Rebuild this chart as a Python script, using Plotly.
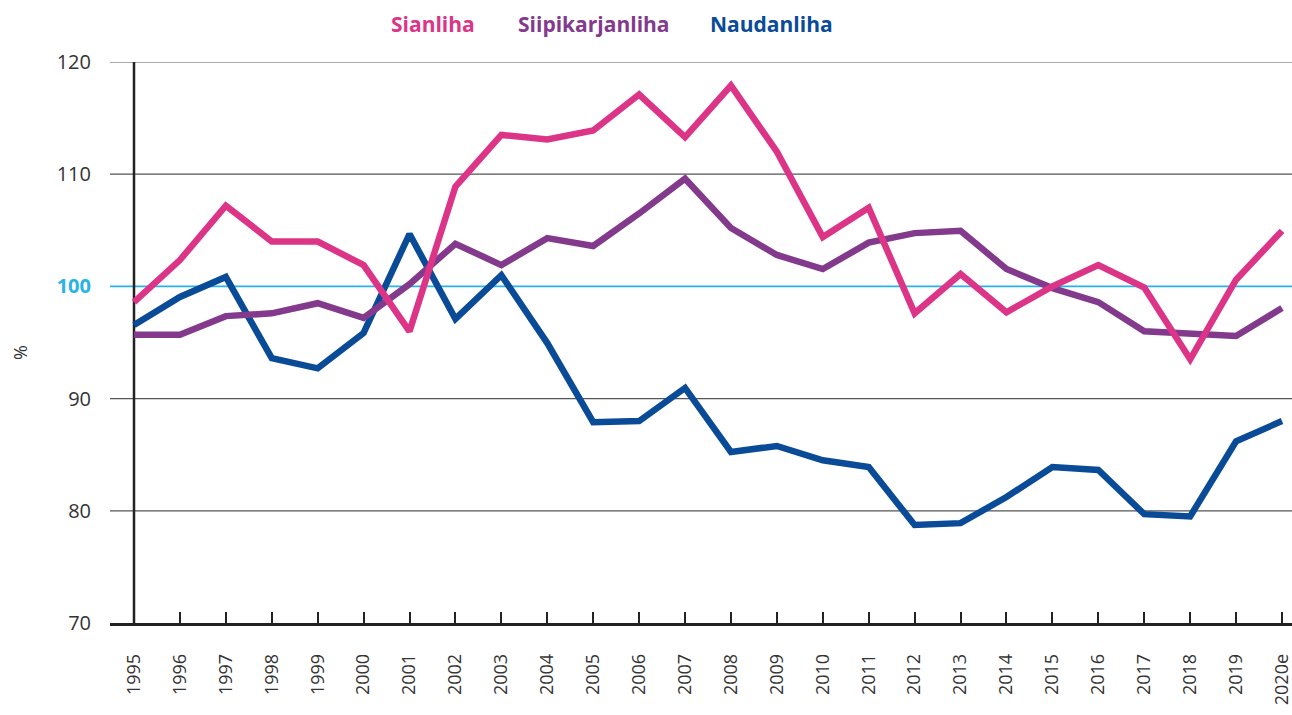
import plotly.graph_objects as go

years = ["1995", "1996", "1997", "1998", "1999", "2000", "2001", "2002", "2003", "2004",
         "2005", "2006", "2007", "2008", "2009", "2010", "2011", "2012", "2013", "2014",
         "2015", "2016", "2017", "2018", "2019", "2020e"]

sianliha = [98.6, 102.35, 107.2, 104.0, 104.0, 101.9, 96.0, 108.9, 113.5, 113.1,
            113.9, 117.1, 113.3, 117.9, 112.0, 104.4, 107.0, 97.6, 101.1, 97.7,
            100.0, 101.9, 99.9, 93.5, 100.6, 104.95]

siipikarjanliha = [95.7, 95.7, 97.35, 97.6, 98.5, 97.2, 100.2, 103.8, 101.9, 104.3,
                   103.6, 106.5, 109.6, 105.2, 102.8, 101.55, 103.9, 104.75, 104.95, 101.55,
                   99.85, 98.6, 96.0, 95.76, 95.58, 98.07]

naudanliha = [96.56, 99.06, 100.84, 93.6, 92.7, 95.85, 104.67, 97.1, 101.0, 94.95,
              87.9, 88.0, 90.95, 85.24, 85.78, 84.5, 83.9, 78.73, 78.9, 81.23,
              83.9, 83.64, 79.7, 79.5, 86.2, 88.0]

series_names = ["Sianliha", "Siipikarjanliha", "Naudanliha"]
colors = ["#dc3588", "#833a8d", "#0a4b98"]
y_ticks = [70, 80, 90, 100, 110, 120]

xs = list(range(len(years)))
fig = go.Figure()

# draw order: blue, purple, then pink on top
order = [(series_names[2], naudanliha, colors[2]),
         (series_names[1], siipikarjanliha, colors[1]),
         (series_names[0], sianliha, colors[0])]
for name, vals, col in order:
    fig.add_trace(go.Scatter(x=xs, y=vals, mode="lines", name=name,
                             line=dict(color=col, width=6.5), showlegend=False,
                             cliponaxis=False))

W, H = 1292, 715
L, R, T, B = 110, 0, 62, 92
pw, ph = W - L - R, H - T - B

shapes = []
for v in [80, 90, 110, 120]:
    shapes.append(dict(type="line", xref="paper", yref="y", x0=0, x1=1, y0=v, y1=v,
                       line=dict(color="#555555", width=1.2), layer="below"))
shapes.append(dict(type="line", xref="paper", yref="y", x0=0, x1=1, y0=100, y1=100,
                   line=dict(color="#29b2e6", width=1.6), layer="below"))
shapes.append(dict(type="line", xref="x", yref="y", x0=0, x1=0, y0=70, y1=120,
                   line=dict(color="#222222", width=2.5), layer="below"))

ticktext_y = [str(v) if v != 100 else "<b><span style='color:#29b2e6'>100</span></b>" for v in y_ticks]

annotations = []
legend_pos = [433, 594, 771]
for name, col, px in zip(series_names, colors, legend_pos):
    annotations.append(dict(text=f"<b>{name}</b>", x=(px - L) / pw, y=(H - B - 24) / ph,
                            xref="paper", yref="paper", showarrow=False,
                            xanchor="center", yanchor="middle",
                            font=dict(size=21, color=col, family="Open Sans")))
annotations.append(dict(text="%", x=(20 - L) / pw, y=(H - B - 352) / ph, xref="paper", yref="paper",
                        showarrow=False, textangle=-90, xanchor="center", yanchor="middle",
                        font=dict(size=18, color="#333333", family="Open Sans")))

x0 = -24 / 45.92
x1 = 25 + 10 / 45.92
fig.update_layout(
    width=W, height=H,
    margin=dict(l=L, r=R, t=T, b=B, pad=0, autoexpand=False),
    plot_bgcolor="white", paper_bgcolor="white",
    shapes=shapes, annotations=annotations,
    xaxis=dict(range=[x0, x1], tickmode="array", tickvals=xs, ticktext=years,
               tickangle=-90, ticks="inside", ticklen=11, tickwidth=2, tickcolor="#222222",
               showline=True, linecolor="#222222", linewidth=2.5, showgrid=False, zeroline=False,
               tickfont=dict(size=18, color="#333333", family="Open Sans"),
               ticklabelstandoff=21, automargin=False, ticklabeloverflow="allow"),
    yaxis=dict(range=[70, 120], tickmode="array", tickvals=y_ticks, ticktext=ticktext_y,
               showgrid=False, zeroline=False, showline=False, ticks="",
               tickfont=dict(size=20, color="#333333", family="Open Sans"),
               ticklabelstandoff=18, automargin=False),
)

fig.write_html("out.html", config={"displayModeBar": False},
               post_script="document.body.style.margin='0';")
